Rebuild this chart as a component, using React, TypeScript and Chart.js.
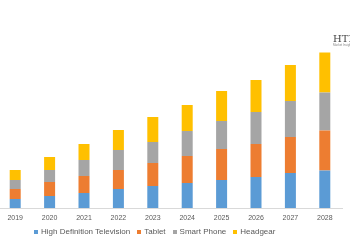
import React, { useEffect, useRef } from "react";
import { Chart, registerables } from "chart.js";

Chart.register(...registerables);

const years = ["2019", "2020", "2021", "2022", "2023", "2024", "2025", "2026", "2027", "2028"];
const seriesNames = ["High Definition Television", "Tablet", "Smart Phone", "Headgear"];
const seriesColors = ["#5B9BD5", "#ED7D31", "#A5A5A5", "#FFC000"];
const hdtv = [9, 12, 15, 19, 22, 25, 28, 31, 35, 37.5];
const tablet = [10, 14, 17, 19, 23, 27, 31, 33, 36, 40];
const smartPhone = [9, 12, 16, 20, 21, 25, 28, 32, 36, 38];
const headgear = [10, 13, 16, 20, 25, 26, 30, 32, 36, 40];
const seriesData = [hdtv, tablet, smartPhone, headgear];

export default function App() {
  const ref = useRef<HTMLCanvasElement>(null);
  useEffect(() => {
    if (!ref.current) return;
    const chart = new Chart(ref.current, {
      type: "bar",
      data: {
        labels: years,
        datasets: seriesNames.map((name, i) => ({
          label: name,
          data: seriesData[i],
          backgroundColor: seriesColors[i],
        })),
      },
      options: {
        animation: false,
        responsive: false,
        maintainAspectRatio: false,
        datasets: { bar: { barPercentage: 0.32, categoryPercentage: 1 } },
        layout: { padding: { left: 0, right: 8, top: 0, bottom: 21.6 } },
        plugins: {
          tooltip: { enabled: false },
          legend: { display: false },
        },
        scales: {
          x: {
            stacked: true,
            grid: { display: false, drawTicks: false },
            border: { display: true, color: "#D9D9D9" },
            ticks: { color: "#595959", font: { size: 7, family: "Liberation Sans" }, padding: 6 },
          },
          y: {
            stacked: true,
            display: false,
            min: 0,
            max: 208,
          },
        },
      },
    });
    return () => chart.destroy();
  }, []);
  return (
    <div style={{ position: "absolute", left: -2, top: 0, width: 352, height: 250, background: "#fff" }}>
      <canvas ref={ref} width={352} height={250} />
      <div
        style={{
          position: "absolute",
          left: 36,
          top: 226,
          height: 11,
          display: "flex",
          alignItems: "center",
          gap: 7,
          fontFamily: "Liberation Sans",
          fontSize: 8,
          color: "#595959",
          whiteSpace: "nowrap",
        }}
      >
        {seriesNames.map((name, i) => (
          <div key={name} style={{ display: "flex", alignItems: "center" }}>
            <span style={{ width: 4, height: 4, background: seriesColors[i], marginRight: 3, display: "inline-block" }} />
            <span>{name}</span>
          </div>
        ))}
      </div>
      <div
        style={{
          position: "absolute",
          left: 335,
          top: 34,
          fontFamily: "DejaVu Serif",
          fontSize: 10,
          color: "#444",
          lineHeight: "10px",
        }}
      >
        HTI
      </div>
      <div
        style={{
          position: "absolute",
          left: 335,
          top: 44,
          fontFamily: "Liberation Sans",
          fontSize: 3,
          color: "#888",
          lineHeight: "3px",
          whiteSpace: "nowrap",
        }}
      >
        Market Insights
      </div>
    </div>
  );
}
